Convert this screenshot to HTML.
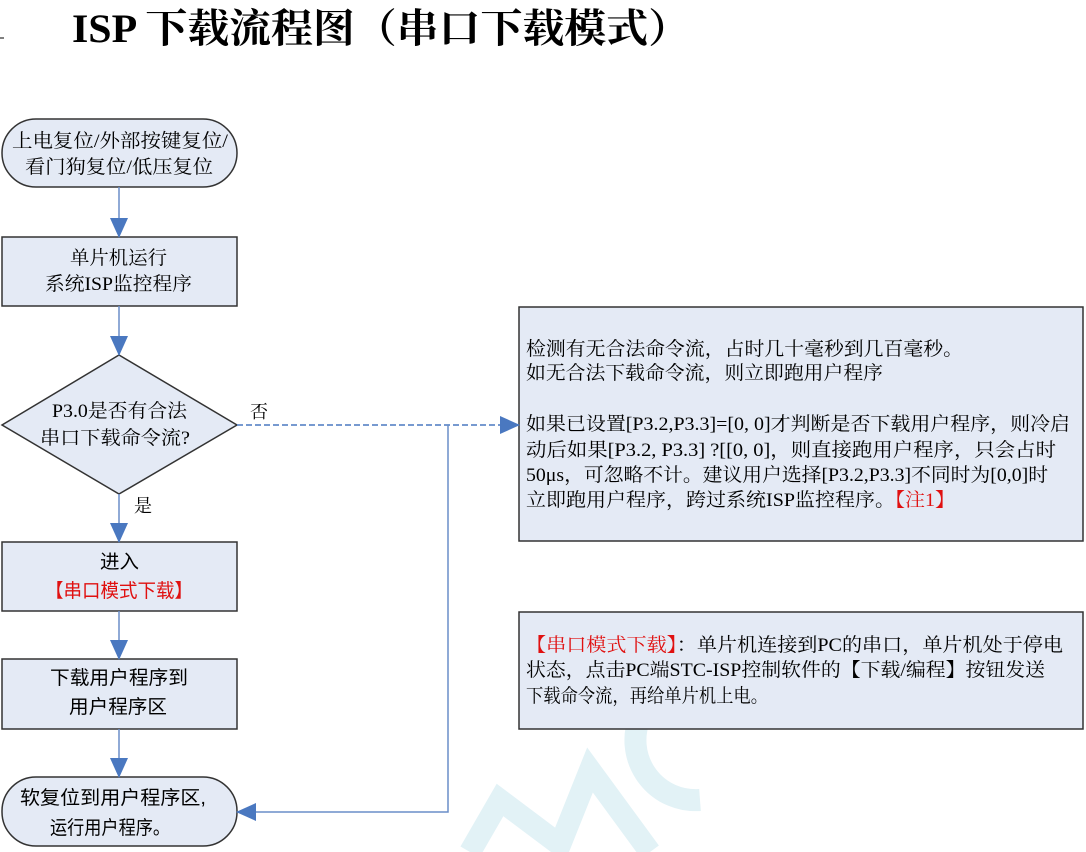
<!DOCTYPE html>
<html><head><meta charset="utf-8"><style>
html,body{margin:0;padding:0;background:#fff;width:1086px;height:852px;overflow:hidden}
svg{display:block}
svg text{font-family:"Liberation Serif","Noto Serif CJK SC",serif}
.s{font-family:"Liberation Sans","Noto Sans CJK SC",sans-serif !important}
</style></head><body>
<svg width="1086" height="852" viewBox="0 0 1086 852" xmlns="http://www.w3.org/2000/svg" style="overflow:hidden">
<defs>
<marker id="b" markerWidth="20" markerHeight="18" refX="19" refY="9" orient="auto" markerUnits="userSpaceOnUse"><path d="M0,0 L20,9 L0,18z" fill="#4a78c0"/></marker></defs>
<g fill="none" stroke="#e2f2f6" stroke-width="22">
<path d="M470,852 L500,800 L560,845 L590,770 L650,852"/>
<path d="M740,700 A60,60 0 1 0 700,800"/>
</g>
<line x1="0" y1="38" x2="4" y2="38" stroke="#000"/>
<text x="72" y="42" font-size="40" font-weight="bold" textLength="618" lengthAdjust="spacingAndGlyphs">ISP 下载流程图（串口下载模式）</text>
<g stroke="#333" stroke-width="1.5" fill="#e4eaf5">
<rect x="2" y="119" width="235" height="68" rx="34"/>
<rect x="2" y="237" width="235" height="69"/>
<path d="M119,355 L237,425 L119,494 L2,425z"/>
<rect x="2" y="542" width="235" height="69"/>
<rect x="2" y="659" width="235" height="70"/>
<rect x="2" y="777" width="235" height="69" rx="34"/>
<rect x="519" y="307" width="564" height="234"/>
<rect x="519" y="612" width="564" height="117"/>
</g>
<g stroke="#6a8ec8" stroke-width="1.5" fill="none">
<line x1="119" y1="187" x2="119" y2="237" marker-end="url(#b)"/>
<line x1="119" y1="306" x2="119" y2="355" marker-end="url(#b)"/>
<line x1="119" y1="494" x2="119" y2="542" marker-end="url(#b)"/>
<line x1="119" y1="611" x2="119" y2="659" marker-end="url(#b)"/>
<line x1="119" y1="729" x2="119" y2="777" marker-end="url(#b)"/>
<line x1="237" y1="425" x2="519" y2="425" stroke-dasharray="6,3" stroke="#4a78c0" marker-end="url(#b)"/>
<polyline points="448,425 448,812 237,812" marker-end="url(#b)"/>
</g>
<g font-size="19">
<text x="12" y="147" textLength="216" lengthAdjust="spacingAndGlyphs">上电复位/外部按键复位/</text>
<text x="25" y="173" textLength="188" lengthAdjust="spacingAndGlyphs">看门狗复位/低压复位</text>
<text x="70" y="264" textLength="97" lengthAdjust="spacingAndGlyphs">单片机运行</text>
<text x="45" y="290" textLength="147" lengthAdjust="spacingAndGlyphs">系统ISP监控程序</text>
<text x="52" y="417" textLength="135" lengthAdjust="spacingAndGlyphs">P3.0是否有合法</text>
<text x="40" y="444" textLength="150" lengthAdjust="spacingAndGlyphs">串口下载命令流?</text>
<text class="s" x="100" y="568" textLength="39" lengthAdjust="spacingAndGlyphs">进入</text>
<text class="s" x="45" y="597" fill="#e01010" textLength="148" lengthAdjust="spacingAndGlyphs">【串口模式下载】</text>
<text class="s" x="50" y="684" textLength="138" lengthAdjust="spacingAndGlyphs">下载用户程序到</text>
<text class="s" x="69" y="713" textLength="98" lengthAdjust="spacingAndGlyphs">用户程序区</text>
<text class="s" x="20" y="804" textLength="186" lengthAdjust="spacingAndGlyphs">软复位到用户程序区,</text>
<text class="s" x="50" y="834" textLength="120" lengthAdjust="spacingAndGlyphs">运行用户程序。</text>
</g>
<text x="250" y="418" font-size="18">否</text>
<text x="134" y="512" font-size="18">是</text>
<g font-size="19">
<text x="526" y="355" textLength="437" lengthAdjust="spacingAndGlyphs">检测有无合法命令流，占时几十毫秒到几百毫秒。</text>
<text x="526" y="379" textLength="357" lengthAdjust="spacingAndGlyphs">如无合法下载命令流，则立即跑用户程序</text>
<text x="526" y="430" textLength="544" lengthAdjust="spacingAndGlyphs">如果已设置[P3.2,P3.3]=[0, 0]才判断是否下载用户程序，则冷启</text>
<text x="526" y="456" textLength="530" lengthAdjust="spacingAndGlyphs">动后如果[P3.2, P3.3] ?[[0, 0]，则直接跑用户程序，只会占时</text>
<text x="526" y="481" textLength="522" lengthAdjust="spacingAndGlyphs">50μs，可忽略不计。建议用户选择[P3.2,P3.3]不同时为[0,0]时</text>
<text x="526" y="506" textLength="429" lengthAdjust="spacingAndGlyphs">立即跑用户程序，跨过系统ISP监控程序。<tspan fill="#e01010">【注1】</tspan></text>
<text x="526" y="651" textLength="537" lengthAdjust="spacingAndGlyphs"><tspan fill="#e01010">【串口模式下载】</tspan>：单片机连接到PC的串口，单片机处于停电</text>
<text x="526" y="676" textLength="519" lengthAdjust="spacingAndGlyphs">状态，点击PC端STC-ISP控制软件的【下载/编程】按钮发送</text>
<text x="526" y="702" textLength="242" lengthAdjust="spacingAndGlyphs">下载命令流，再给单片机上电。</text>
</g>
</svg>
</body></html>
